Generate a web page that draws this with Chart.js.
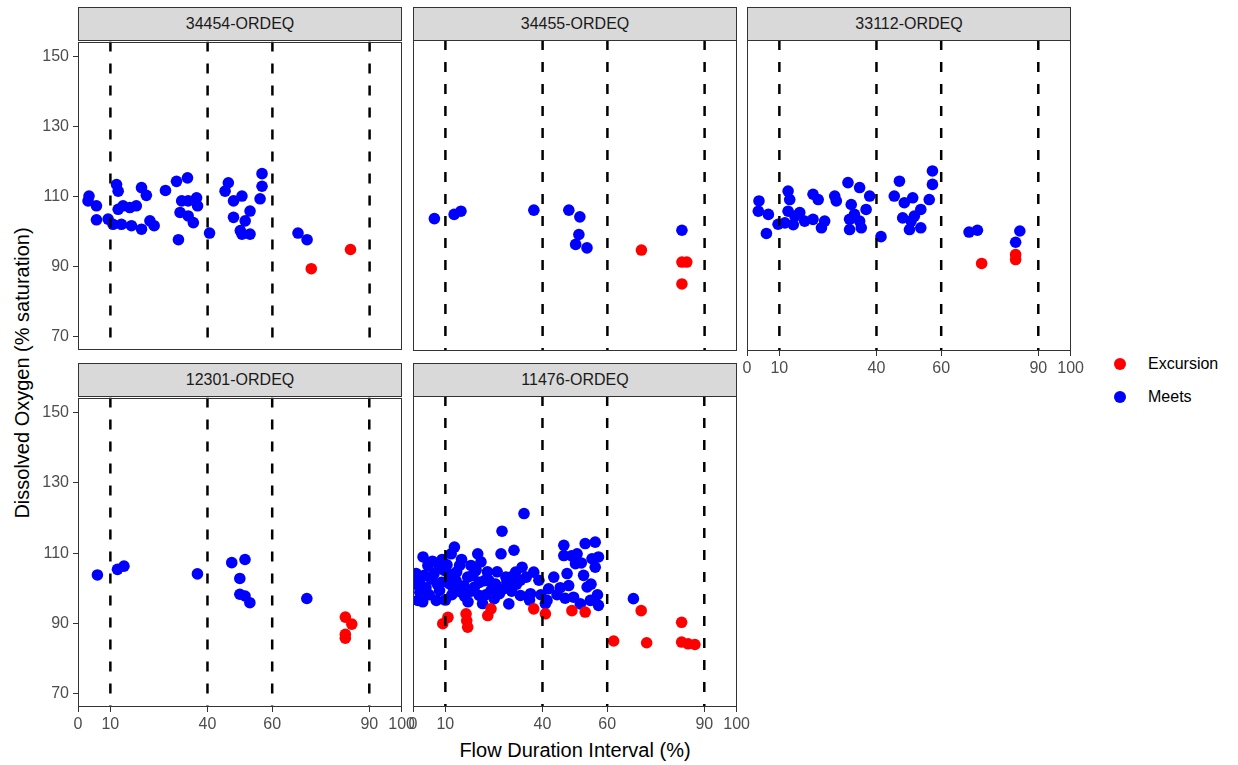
<!DOCTYPE html>
<html>
<head>
<meta charset="utf-8">
<script src="https://cdn.jsdelivr.net/npm/chart.js@4.4.1/dist/chart.umd.min.js"></script>
<style>
  body { margin: 0; background: #fff; font-family: "Liberation Sans", Arial, sans-serif; }
  #page { position: relative; width: 1238px; height: 765px; overflow: hidden; }
  .panel { position: absolute; }
  .strip { position: absolute; box-sizing: border-box; background: #D9D9D9; border: 1px solid #333;
           color: #1A1A1A; font-size: 16px; text-align: center; line-height: 31px; }
  .ytitle { position: absolute; left: 22px; top: 373px; transform: translate(-50%, -50%) rotate(-90deg);
            white-space: nowrap; font-size: 20px; color: #000; }
  .xtitle { position: absolute; left: 575px; top: 750px; transform: translate(-50%, -50%);
            white-space: nowrap; font-size: 20px; color: #000; }
  .leg { position: absolute; left: 1114px; font-size: 16px; color: #000; }
  .leg span.dot { position: absolute; left: 0; top: 2px; width: 12px; height: 12px; border-radius: 50%; }
  .leg span.lab { position: absolute; left: 34px; top: 0; white-space: nowrap; line-height: 16px; }
</style>
</head>
<body>
<div id="page">
  <div class="ytitle">Dissolved Oxygen (% saturation)</div>
  <div class="xtitle">Flow Duration Interval (%)</div>
  <div class="leg" style="top:356px"><span class="dot" style="background:#FF0000"></span><span class="lab">Excursion</span></div>
  <div class="leg" style="top:389px"><span class="dot" style="background:#0000FF"></span><span class="lab">Meets</span></div>
</div>
<script>
// valeurs : [intervalle de débit %, oxygène dissous %]
const sites = ['34454-ORDEQ', '34455-ORDEQ', '33112-ORDEQ', '12301-ORDEQ', '11476-ORDEQ'];
const xTicks = [0, 10, 40, 60, 90, 100];
const yTicks = [70, 90, 110, 130, 150];
const flowLines = [10, 40, 60, 90];
const statusNames = ['Excursion', 'Meets'];

const meets34454 = [[3.4,110.1],[3.1,108.7],[5.7,107.3],[5.7,103.3],[9.3,103.5],[10.8,102],[11.9,113.4],[12.4,111.5],
  [12.4,106.3],[13.9,107.3],[13.4,102],[16,106.8],[16.5,101.6],[18,107.3],[19.6,100.6],[19.6,112.5],[21.1,110.3],
  [22.2,103],[23.5,101.6],[27,111.7],[30.4,114.3],[33.8,115.3],[32,108.7],[31.5,105.4],[34,108.7],[36.6,109.6],
  [36.9,107.3],[34,104.4],[35.6,102.5],[31,97.6],[40.6,99.5],[46.4,113.9],[45.4,111.5],[48,108.7],[50.6,110.1],
  [48,104],[53.1,105.8],[51.6,103],[50.1,100.2],[53.1,99.2],[50.6,99.2],[56.8,116.5],[56.8,112.9],[56.2,109.3],
  [67.9,99.5],[70.7,97.6]];
const exc34454 = [[72,89.3],[84.1,94.8]];

const meets34455 = [[6.6,103.7],[12.7,104.9],[14.8,105.8],[37.3,106.1],[48.1,106.1],[51.5,104.2],[51.2,99.2],
  [50.2,96.4],[53.7,95.4],[83,100.4]];
const exc34455 = [[70.5,94.8],[83,91.4],[84.5,91.4],[83,85.2]];

const meets33112 = [[3.7,108.7],[3.5,105.8],[6.6,104.9],[6,99.5],[9.6,102.1],[12.7,111.5],[13.2,109.1],[12.7,105.8],
  [14.8,104.4],[11.7,102.5],[16.3,105.4],[17.8,103],[14.3,102],[20.4,110.6],[22,109.1],[20.4,103.5],[24,103],
  [23,101.1],[27.1,110.1],[27.6,108.7],[31.2,113.9],[34.8,112.5],[37.9,110.1],[32.2,107.7],[36.8,106.3],
  [33.2,104.9],[31.7,103.5],[34.8,103],[31.7,100.6],[35.3,101.1],[41.4,98.6],[47.1,114.3],[45.5,110.1],
  [51.2,109.6],[48.6,108.2],[53.7,106.3],[48.1,103.9],[51.7,104.4],[50.2,100.6],[53.7,101.1],[50.7,103],
  [57.3,117.2],[57.3,113.4],[56.3,109.1],[68.6,99.9],[71.2,100.4],[84.3,100.2],[83,97]];
const exc33112 = [[72.5,91],[83,93.5],[83,92.1]];

const meets12301 = [[6,103.8],[12.2,105.4],[14.2,106.3],[36.9,104.1],[47.5,107.3],[51.6,108.2],[50,102.8],
  [50,98.3],[51.6,97.8],[53.1,95.9],[70.7,97.1]];
const exc12301 = [[82.6,91.8],[84.6,89.8],[82.6,86.9],[82.6,85.8]];

const meets11476 = [[3.1,108.7],[4.6,106.3],[2.1,101.6],[2.1,98.7],[1.5,96.4],[5.6,102.5],[7.2,96.4],[8.2,99.2],
  [9.7,104.9],[11.8,109.6],[12.8,111.5],[11.3,101.1],[13.3,102],[14.4,106.3],[14.9,98.7],[16.9,103],[17.9,106.3],
  [20,109.6],[21,107.3],[19,100.2],[20.5,97.8],[22.1,102],[24.1,99.2],[25.1,96.9],[27.2,109.6],[27.5,116],
  [26.7,98.3],[28.7,103],[6.5,104],[8.8,101.5],[10.5,106.5],[12,98],[15.8,100.5],[18.5,103.5],[23,104.5],
  [4,100],[10,96.5],[17,96],[21.5,95.5],[34.3,121],[31.2,110.6],[33.7,105.8],[31.7,104.4],[37.3,104.4],
  [30.2,103],[33.2,102.1],[38.9,102.1],[43.5,103],[41.9,99.7],[28.1,99.7],[33.2,97.8],[36.3,98.3],[29.6,95.4],
  [41.4,96.4],[46.6,112],[46.6,109.1],[53.2,112.5],[50.7,109.6],[56.3,112.9],[55.3,108.2],[56.3,105.8],
  [47.6,104],[52.7,103.5],[48.1,100.6],[53.8,100.2],[49.6,97.3],[51.7,95.4],[54.8,96.4],[68.1,96.9],
  [57.3,108.7],[50.2,106.8],[57.3,95],[40.9,95.5],[44.5,98],
  [0.8,101],[1,104],[3,96],[3.5,103.5],[5,98],[6,107.5],[7.5,101],[8,105.5],[9,108],[11,104],[12.5,100],
  [13.5,104.5],[15,108],[16,97.5],[18,99],[19.5,105],[20.5,101.5],[22.5,98],[23.5,102],[25.5,101],[26,104.5],
  [29,101.5],[30.5,99],[32,101],[35,103],[36,96.5],[39.5,98],[45.5,100],[47,97],[49,109],[52,107],[55,101],[57,98]];
const exc11476 = [[9.2,89.8],[10.8,91.6],[16.4,92.6],[16.6,90.7],[16.9,88.8],[23.1,92.1],[24.1,94],[37.3,94],
  [40.9,92.6],[49.1,93.5],[53.2,93.1],[70.5,93.5],[62,84.9],[72.2,84.4],[83,90.2],[83,84.6],[85,84.1],[87.1,83.9]];

const excursions = [exc34454, exc34455, exc33112, exc12301, exc11476];
const meets = [meets34454, meets34455, meets33112, meets12301, meets11476];

// mise en page des facettes (px)
const plotW = 324, plotH = 311;
const cols = [78, 413, 747], rows = [40, 396];
const panels = [
  { c: 0, r: 0, showY: true,  showX: false },
  { c: 1, r: 0, showY: false, showX: false },
  { c: 2, r: 0, showY: false, showX: true },
  { c: 0, r: 1, showY: true,  showX: true },
  { c: 1, r: 1, showY: false, showX: true }
];
const PL = 12, PR = 16, PT = 12, PB = 12, YW = 40, XH = 30;
const yMin = 66.2, yMax = 154.3;

Chart.defaults.font.family = '"Liberation Sans", Arial, sans-serif';
Chart.defaults.font.size = 16;
Chart.defaults.color = '#4D4D4D';

// cadre gris autour de chaque panneau
const panelBorder = {
  id: 'panelBorder',
  afterDraw(chart) {
    const a = chart.chartArea, ctx = chart.ctx;
    ctx.save();
    ctx.strokeStyle = '#333333';
    ctx.lineWidth = 1;
    ctx.strokeRect(Math.round(a.left) + 0.5, Math.round(a.top) + 0.5,
                   Math.round(a.right - a.left) - 1, Math.round(a.bottom - a.top) - 1);
    ctx.restore();
  }
};

const page = document.getElementById('page');

panels.forEach(function(p, i) {
  const left = cols[p.c], top = rows[p.r];

  const strip = document.createElement('div');
  strip.className = 'strip';
  strip.style.left = left + 'px';
  strip.style.top = (top - 33) + 'px';
  strip.style.width = plotW + 'px';
  strip.style.height = '34px';
  strip.textContent = sites[i];
  page.appendChild(strip);

  const yw = p.showY ? YW : 0, xh = p.showX ? XH : 0;
  const box = document.createElement('div');
  box.className = 'panel';
  const w = PL + yw + plotW + PR, h = PT + plotH + xh + PB;
  box.style.left = (left - PL - yw) + 'px';
  box.style.top = (top - PT) + 'px';
  box.style.width = w + 'px';
  box.style.height = h + 'px';
  const cv = document.createElement('canvas');
  box.appendChild(cv);
  page.appendChild(box);

  const datasets = flowLines.map(function(v) {
    return {
      type: 'line',
      data: [{ x: v, y: yMax }, { x: v, y: yMin }],
      borderColor: '#000000',
      borderWidth: 2.5,
      borderDash: [10, 12],
      pointRadius: 0,
      order: 0
    };
  });
  datasets.push({
    label: statusNames[0],
    data: excursions[i].map(d => ({ x: d[0], y: d[1] })),
    backgroundColor: '#FF0000',
    borderWidth: 0,
    pointRadius: 5.8,
    pointHoverRadius: 5.8,
    order: 1
  });
  datasets.push({
    label: statusNames[1],
    data: meets[i].map(d => ({ x: d[0], y: d[1] })),
    backgroundColor: '#0000FF',
    borderWidth: 0,
    pointRadius: 5.8,
    pointHoverRadius: 5.8,
    order: 2
  });

  new Chart(cv, {
    type: 'scatter',
    data: { datasets: datasets },
    plugins: [panelBorder],
    options: {
      responsive: true,
      maintainAspectRatio: false,
      animation: false,
      layout: { padding: { left: PL, right: PR, top: PT, bottom: PB } },
      plugins: { legend: { display: false }, tooltip: { enabled: false } },
      scales: {
        x: {
          type: 'linear',
          min: 0, max: 100,
          display: p.showX,
          afterBuildTicks: s => { s.ticks = xTicks.map(v => ({ value: v })); },
          afterFit: s => { s.height = xh; },
          grid: { drawOnChartArea: false, drawTicks: true, tickLength: 5, color: '#333333' },
          border: { display: false },
          ticks: { padding: 3, maxRotation: 0, autoSkip: false, color: '#4D4D4D' }
        },
        y: {
          type: 'linear',
          min: yMin, max: yMax,
          display: p.showY,
          afterBuildTicks: s => { s.ticks = yTicks.map(v => ({ value: v })); },
          afterFit: s => { s.width = yw; },
          grid: { drawOnChartArea: false, drawTicks: true, tickLength: 5, color: '#333333' },
          border: { display: false },
          ticks: { padding: 4, autoSkip: false, color: '#4D4D4D' }
        }
      }
    }
  });
});
</script>
</body>
</html>
